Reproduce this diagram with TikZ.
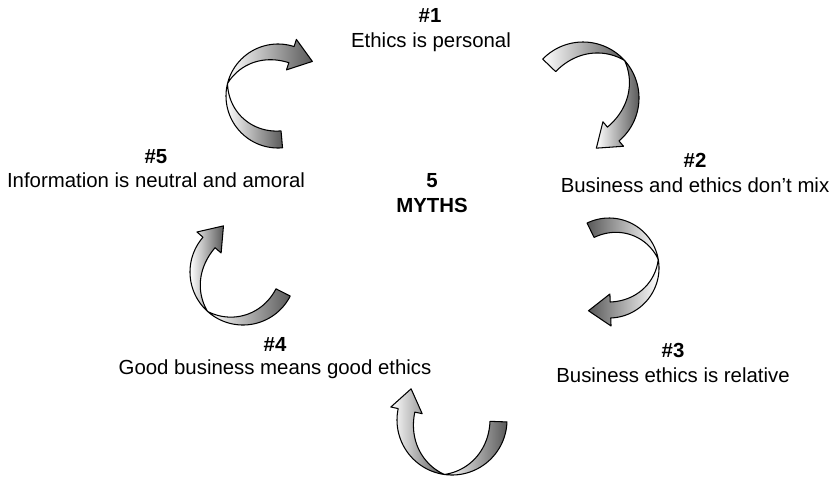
\documentclass[tikz,border=0pt]{standalone}
\usepackage{fontspec}
\setmainfont{Liberation Sans}
\def\headw{16}
\def\headl{22}
% ribbon arrow: [shading](centre)(outer radius:width)(tail:twist:head angles)
\def\ribbonarrow[#1](#2,#3)(#4:#5)(#6:#7:#8){%
	\pgfmathsetmacro\rmid{#4-#5/2}%
	\pgfmathsetmacro\rdir{sign(#8-#7)}%
	\draw[ribbon,#1] plot[domain=#6:#7] ({#2+#4*cos(\x)},{#3+#4*sin(\x)})
		-- plot[domain=#7:#6] ({#2+(#4-#5*sin(90*(#7-\x)/(#7-#6)))*cos(\x)},{#3+(#4-#5*sin(90*(#7-\x)/(#7-#6)))*sin(\x)}) -- cycle;
	\draw[ribbon,#1] plot[domain=#7:#8] ({#2+#4*cos(\x)},{#3+#4*sin(\x)})
		-- ({#2+(\rmid+\headw)*cos(#8)},{#3+(\rmid+\headw)*sin(#8)})
		-- ({#2+\rmid*cos(#8)-\rdir*\headl*sin(#8)},{#3+\rmid*sin(#8)+\rdir*\headl*cos(#8)})
		-- ({#2+(\rmid-\headw)*cos(#8)},{#3+(\rmid-\headw)*sin(#8)})
		-- plot[domain=#8:#7] ({#2+(#4-#5*sin(90*(\x-#7)/(#8-#7)))*cos(\x)},{#3+(#4-#5*sin(90*(\x-#7)/(#8-#7)))*sin(\x)}) -- cycle;
}
\tikzset{
	ribbon/.style={draw=black, line width=0.6pt, line join=round},
	myth/.style={font=\fontsize{11.6}{14}\selectfont, inner sep=0pt, anchor=base},
	mythnum/.style={myth, font=\fontsize{11.6}{14}\selectfont\bfseries}
}

\begin{document}
\begin{tikzpicture}[x=0.02cm, y=-0.02cm, samples=40]
		\useasboundingbox (0,0) rectangle (838,478);
		
		%%%%% LABELS %%%%%
		\node[mythnum] (h1) at (430,22) {\#1};
		\node[myth] (m1) at (431,47) {Ethics is personal};
		\node[mythnum] (h2) at (695,167) {\#2};
		\node[myth] (m2) at (695,192) {Business and ethics don’t mix};
		\node[mythnum] (h3) at (673,357) {\#3};
		\node[myth] (m3) at (673,382) {Business ethics is relative};
		\node[mythnum] (h4) at (275,351) {\#4};
		\node[myth] (m4) at (275,374) {Good business means good ethics};
		\node[mythnum] (h5) at (156,163) {\#5};
		\node[myth] (m5) at (156,187) {Information is neutral and amoral};
		\node[mythnum] (c1) at (432,187) {5};
		\node[mythnum] (c2) at (432,212) {MYTHS};
		
		%%%%% ARROWS %%%%%
		\ribbonarrow[left color=white, right color=black!65](278,96)(52:17)(85:194:288)
		\ribbonarrow[left color=white, right color=black!65](583,98)(56:18)(224:318:410)
		\ribbonarrow[left color=black!65, right color=white](609,268)(50:16)(244:350:448)
		\ribbonarrow[left color=white, right color=black!65](452,420)(55:17)(2:98:192)
		\ribbonarrow[left color=white, right color=black!65](243,272)(53:16)(27:132:221)
\end{tikzpicture}
\end{document}
